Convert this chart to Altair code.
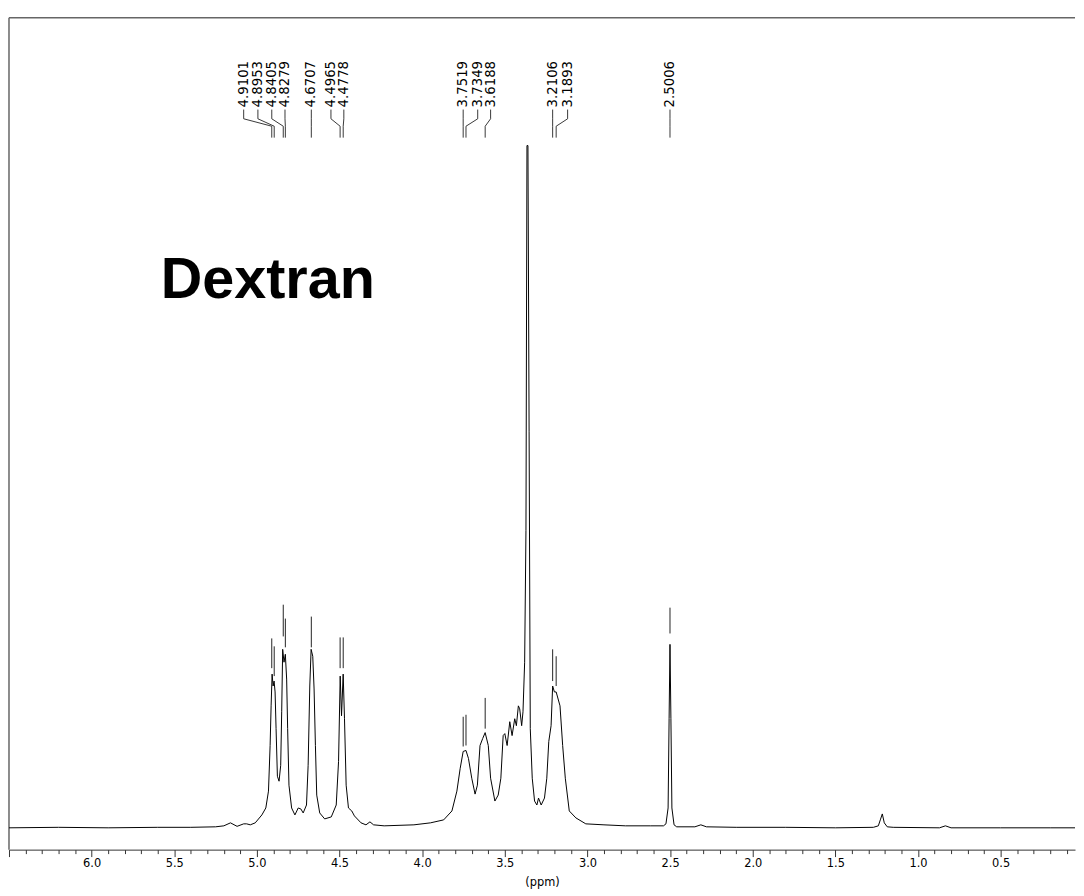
import altair as alt
import pandas as pd

# ---------------- data ----------------
spec_ppm = [
    6.50, 6.20, 5.90, 5.60, 5.40, 5.25, 5.20, 5.16, 5.12, 5.08, 5.062, 5.04, 5.01,
    4.97, 4.946, 4.93, 4.92, 4.914, 4.908, 4.902, 4.896, 4.89, 4.884, 4.876, 4.866,
    4.856, 4.85, 4.844, 4.836, 4.828, 4.82, 4.814, 4.806, 4.79, 4.77, 4.75, 4.734,
    4.72, 4.70, 4.69, 4.68, 4.672, 4.662, 4.654, 4.646, 4.638, 4.62, 4.59, 4.55,
    4.52, 4.506, 4.496, 4.488, 4.478, 4.47, 4.46, 4.446, 4.426, 4.41, 4.37, 4.34,
    4.316, 4.294, 4.23, 4.05, 3.95, 3.87, 3.82, 3.79, 3.77, 3.752, 3.735, 3.72,
    3.70, 3.68, 3.666, 3.65, 3.634, 3.619, 3.60, 3.586, 3.56, 3.54, 3.524, 3.51,
    3.50, 3.486, 3.47, 3.456, 3.44, 3.43, 3.418, 3.41, 3.398, 3.39, 3.38, 3.372,
    3.366, 3.36, 3.353, 3.346, 3.334, 3.32, 3.306, 3.296, 3.28, 3.26, 3.246, 3.234,
    3.22, 3.2106, 3.20, 3.1893, 3.166, 3.15, 3.134, 3.11, 3.07, 3.01, 2.90, 2.77,
    2.62, 2.54, 2.525, 2.512, 2.506, 2.5006, 2.495, 2.489, 2.476, 2.46, 2.35, 2.314,
    2.28, 2.10, 1.80, 1.50, 1.27, 1.24, 1.228, 1.216, 1.204, 1.186, 1.15, 0.87,
    0.834, 0.80, 0.50, 0.20, 0.05,
]
spec_int = [
    0, 0.5, 0, 0.5, 0.5, 1, 2, 5, 1.5, 4, 4, 3, 5,
    13, 20, 37, 83, 123, 155, 143, 148, 137, 100, 52, 47,
    63, 117, 180, 167, 175, 150, 100, 43, 20, 13, 20, 19,
    15, 23, 63, 143, 180, 173, 140, 83, 33, 15, 9, 11,
    23, 67, 153, 113, 155, 110, 43, 20, 17, 12, 5, 3,
    6, 3, 2, 3, 5, 8, 17, 37, 60, 77, 78, 70,
    50, 34, 43, 83, 90, 96, 83, 50, 27, 33, 50, 93,
    95, 83, 107, 93, 110, 103, 123, 120, 103, 117, 167, 300,
    688, 688, 400, 100, 50, 27, 23, 30, 23, 30, 50, 87,
    103, 143, 137, 137, 123, 83, 50, 17, 10, 4, 3, 2,
    2, 2, 4, 20, 110, 185, 110, 20, 3, 1, 1, 3,
    1, 0.5, 0.5, 0, 0.5, 2, 8, 14, 5, 1, 0.5, 0,
    2, 0, 0, 0, 0,
]
assert len(spec_ppm) == len(spec_int)

peak_labels = ["4.9101", "4.8953", "4.8405", "4.8279", "4.6707", "4.4965", "4.4778",
               "3.7519", "3.7349", "3.6188", "3.2106", "3.1893", "2.5006"]
peak_ppm = [float(s) for s in peak_labels]
label_ppm = [5.080, 4.994, 4.910, 4.830, 4.6707, 4.552, 4.474,
             3.7519, 3.664, 3.586, 3.2106, 3.120, 2.5006]
marker_lo = [161, 153, 193, 182, 182, 161, 161, 82, 83, 100, 148, 143, 196]
marker_hi = [191, 183, 225, 211, 213, 192, 192, 112, 114, 131, 180, 173, 222]

sample_name = "Dextran"
x_title = "(ppm)"
tick_values = [round(0.1 * k, 1) for k in range(1, 66)]

# ---------------- layout ----------------
W, H = 1075, 839
X_MIN, X_MAX = 0.05, 6.5
Y_MIN, Y_MAX = -22, 817
LEAD_H = [724.3, 715.0, 707.5, 696.0]   # leader polyline heights (top -> bottom)
TEXT_H = 726.5

x_scale = alt.Scale(domain=[X_MIN, X_MAX], reverse=True, nice=False, zero=False)
y_scale = alt.Scale(domain=[Y_MIN, Y_MAX], nice=False, zero=False)

major = "abs(datum.value*2 - round(datum.value*2)) < 0.001"
x_axis = alt.Axis(
    values=tick_values,
    title=x_title,
    labelExpr=f"({major}) && datum.value < 6.2 ? format(datum.value, '.1f') : ''",
    tickSize={"condition": {"test": major, "value": 7}, "value": 4},
    grid=False,
    labelOverlap=False,
    labelFont="DejaVu Sans",
    labelFontSize=11.5,
    labelColor="black",
    labelPadding=1,
    titleFont="DejaVu Sans",
    titleFontSize=11.5,
    titleFontWeight="normal",
    titleColor="black",
    titlePadding=8,
    domainColor="#333",
    tickColor="#333",
    domainWidth=1,
    tickWidth=1,
)

X = lambda f: alt.X(f"{f}:Q", scale=x_scale, axis=x_axis)
Y = lambda f: alt.Y(f"{f}:Q", scale=y_scale, axis=None)

spec_df = pd.DataFrame({"ppm": spec_ppm, "h": spec_int})
spectrum = alt.Chart(spec_df).mark_line(color="black", strokeWidth=1, clip=True).encode(
    x=X("ppm"), y=Y("h")
)

rows = []
for lab, pp, lp in zip(peak_labels, peak_ppm, label_ppm):
    pts = [lp, lp, pp, pp]
    for s, (xx, hh) in enumerate(zip(pts, LEAD_H)):
        rows.append({"label": lab, "step": s, "ppm": xx, "h": hh})
lead_df = pd.DataFrame(rows)
leaders = alt.Chart(lead_df).mark_line(color="#222", strokeWidth=0.9).encode(
    x=X("ppm"), y=Y("h"), detail="label:N", order="step:Q"
)

lab_df = pd.DataFrame({"ppm": label_ppm, "h": [TEXT_H] * len(label_ppm), "label": peak_labels})
labels = alt.Chart(lab_df).mark_text(
    angle=270, align="left", baseline="middle", font="DejaVu Sans", fontSize=13.4, color="black"
).encode(x=X("ppm"), y=Y("h"), text="label:N")

mk_df = pd.DataFrame({"ppm": peak_ppm, "lo": marker_lo, "hi": marker_hi})
markers = alt.Chart(mk_df).mark_rule(color="#222", strokeWidth=1).encode(
    x=X("ppm"), y=Y("lo"), y2="hi:Q"
)

name_df = pd.DataFrame({"ppm": [5.582], "h": [534], "t": [sample_name]})
name = alt.Chart(name_df).mark_text(
    font="Liberation Sans", fontWeight="bold", fontSize=58, align="left",
    baseline="alphabetic", color="black"
).encode(x=X("ppm"), y=Y("h"), text="t:N")

one = pd.DataFrame({"a": [0]})
top_line = alt.Chart(one).mark_rule(color="#666", strokeWidth=1.5).encode(
    x=alt.value(0), x2=alt.value(W), y=alt.value(0)
)
left_line = alt.Chart(one).mark_rule(color="#666", strokeWidth=1.5).encode(
    x=alt.value(0), y=alt.value(0), y2=alt.value(H)
)

chart = alt.layer(top_line, left_line, spectrum, leaders, labels, markers, name).properties(
    width=W, height=H, padding={"left": 0, "top": 5, "right": 0, "bottom": 0}
).configure_view(stroke=None)

chart.save("out.html", embed_options={"renderer": "svg", "actions": False})
